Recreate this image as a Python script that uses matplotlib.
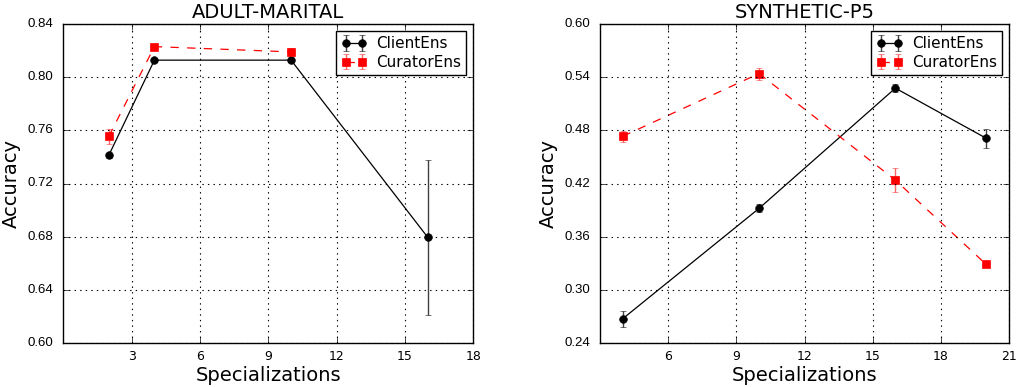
import matplotlib
matplotlib.use("Agg")
import matplotlib.pyplot as plt

plt.style.use("classic")
plt.rcParams["font.family"] = ["DejaVu Sans"]
plt.rcParams["figure.facecolor"] = "white"
plt.rcParams["savefig.facecolor"] = "white"

# ADULT-MARITAL
adult_x = [2, 4, 10, 16]
adult_client = [0.7413, 0.8128, 0.8128, 0.6795]
adult_client_err = [0.002, 0.0012, 0.0015, 0.0585]
adult_cur_x = [2, 4, 10]
adult_curator = [0.7555, 0.823, 0.819]
adult_curator_err = [0.0056, 0.001, 0.003]
adult_xticks = [3, 6, 9, 12, 15, 18]
adult_yticks = [0.60, 0.64, 0.68, 0.72, 0.76, 0.80, 0.84]

# SYNTHETIC-P5
syn_x = [4, 10, 16, 20]
syn_client = [0.2674, 0.3919, 0.5276, 0.471]
syn_client_err = [0.009, 0.0045, 0.0047, 0.0107]
syn_curator = [0.4733, 0.5441, 0.4238, 0.3286]
syn_curator_err = [0.006, 0.0068, 0.0135, 0.002]
syn_xticks = [6, 9, 12, 15, 18, 21]
syn_yticks = [0.24, 0.30, 0.36, 0.42, 0.48, 0.54, 0.60]

fig = plt.figure(figsize=(10.17, 3.87), dpi=100)
ax1 = fig.add_axes([63.3 / 1017, 44 / 387, 410 / 1017, 319 / 387])
ax2 = fig.add_axes([600 / 1017, 44 / 387, 409 / 1017, 319 / 387])


def draw(ax, cx, cy, cerr, rx, ry, rerr, title, xlim, xticks, ylim, yticks):
    ax.errorbar(cx, cy, yerr=cerr, color="black", marker="o", markersize=5.5,
                markeredgecolor="black", linestyle="-", linewidth=0.9,
                capsize=2.2, elinewidth=1, ecolor=(0, 0, 0, 0.75), label="ClientEns")
    ax.errorbar(rx, ry, yerr=rerr, color="red", marker="s", markersize=5.5,
                markeredgecolor="red", linestyle="--", linewidth=0.9,
                capsize=2.2, elinewidth=1, ecolor=(1, 0, 0, 0.6), label="CuratorEns")
    ax.set_xlim(*xlim)
    ax.set_ylim(*ylim)
    ax.set_xticks(xticks)
    ax.set_xticklabels([str(v) for v in xticks], fontsize=9)
    ax.set_yticks(yticks)
    ax.set_yticklabels(["%.2f" % v for v in yticks], fontsize=9.5,
                       family="Liberation Sans")
    ax.tick_params(axis="x", pad=5)
    ax.tick_params(axis="y", pad=7)
    ax.grid(True, linestyle=":", color="black", linewidth=0.8)
    ax.set_title(title, fontsize=14, pad=4)
    ax.set_xlabel("Specializations", fontsize=14, labelpad=2)
    ax.set_ylabel("Accuracy", fontsize=14, labelpad=5)
    leg = ax.legend(loc="upper right", fontsize=11, numpoints=2, fancybox=False,
                    handlelength=1.7, handletextpad=0.6, borderpad=0.35,
                    labelspacing=0.25, borderaxespad=0.45)
    leg.get_frame().set_edgecolor("black")


draw(ax1, adult_x, adult_client, adult_client_err, adult_cur_x, adult_curator,
     adult_curator_err, "ADULT-MARITAL", (0, 18), adult_xticks, (0.60, 0.84), adult_yticks)
draw(ax2, syn_x, syn_client, syn_client_err, syn_x, syn_curator, syn_curator_err,
     "SYNTHETIC-P5", (3, 21), syn_xticks, (0.24, 0.60), syn_yticks)

fig.savefig("out.png", dpi=100)
